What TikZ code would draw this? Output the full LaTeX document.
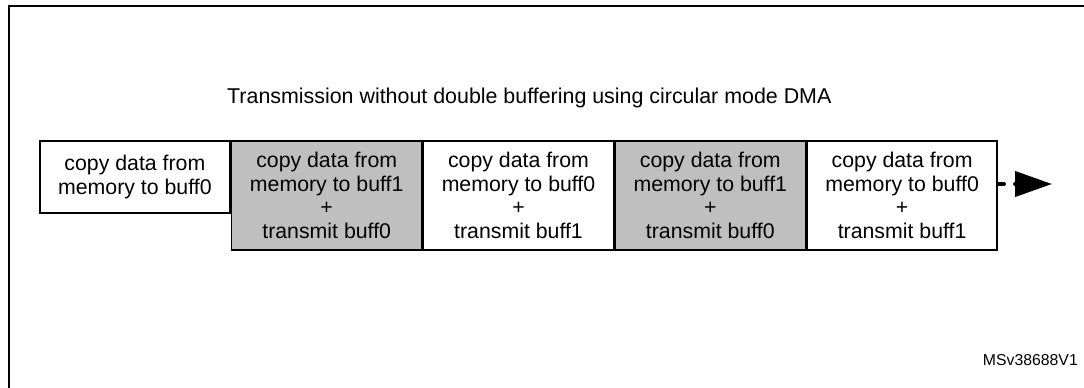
\documentclass[tikz,border=0pt]{standalone}
\usepackage{fontspec}
\setmainfont{Liberation Sans}
\usetikzlibrary{arrows.meta}
\definecolor{stageGrey}{RGB}{191,191,191}
\tikzset{
  stage/.style={draw=black, line width=1.6pt, minimum width=190.2pt,
    minimum height=109pt, inner sep=0pt, align=center,
    font=\fontsize{21.3}{23.4}\selectfont, anchor=north west},
  firststage/.style={stage, minimum height=72pt},
  busy/.style={fill=stageGrey},
  idle/.style={fill=white},
  flow/.style={line width=4pt, line cap=round, dash pattern=on 6pt off 11pt,
    -{Triangle[length=37pt,width=25pt]}},
}
\begin{document}
\begin{tikzpicture}[x=1pt,y=-1pt]
\useasboundingbox (0,0) rectangle (1084,388);
% frame of the figure
\draw[line width=1.8pt] (9,395) |- (1095,6);
% heading
\node[anchor=base west, font=\fontsize{21.4}{25}\selectfont, inner sep=0pt] (title) at (227,103)
  {Transmission without double buffering using circular mode DMA};
% time line of stages
\node[firststage, idle] (s1) at (39,140) {copy data from\\memory to buff0};
\node[stage, busy] (s2) at (s1.north east) {copy data from\\memory to buff1\\+\\transmit buff0};
\node[stage, idle] (s3) at (s2.north east) {copy data from\\memory to buff0\\+\\transmit buff1};
\node[stage, busy] (s4) at (s3.north east) {copy data from\\memory to buff1\\+\\transmit buff0};
\node[stage, idle] (s5) at (s4.north east) {copy data from\\memory to buff0\\+\\transmit buff1};
% continuation arrow
\coordinate (tipend) at (1052,184);
\draw[flow] (s5.east |- tipend) -- (tipend);
% reference code
\node[anchor=base east, font=\fontsize{15.8}{18}\selectfont, inner sep=0pt] (ref) at (1078,365) {MSv38688V1};
\end{tikzpicture}
\end{document}
